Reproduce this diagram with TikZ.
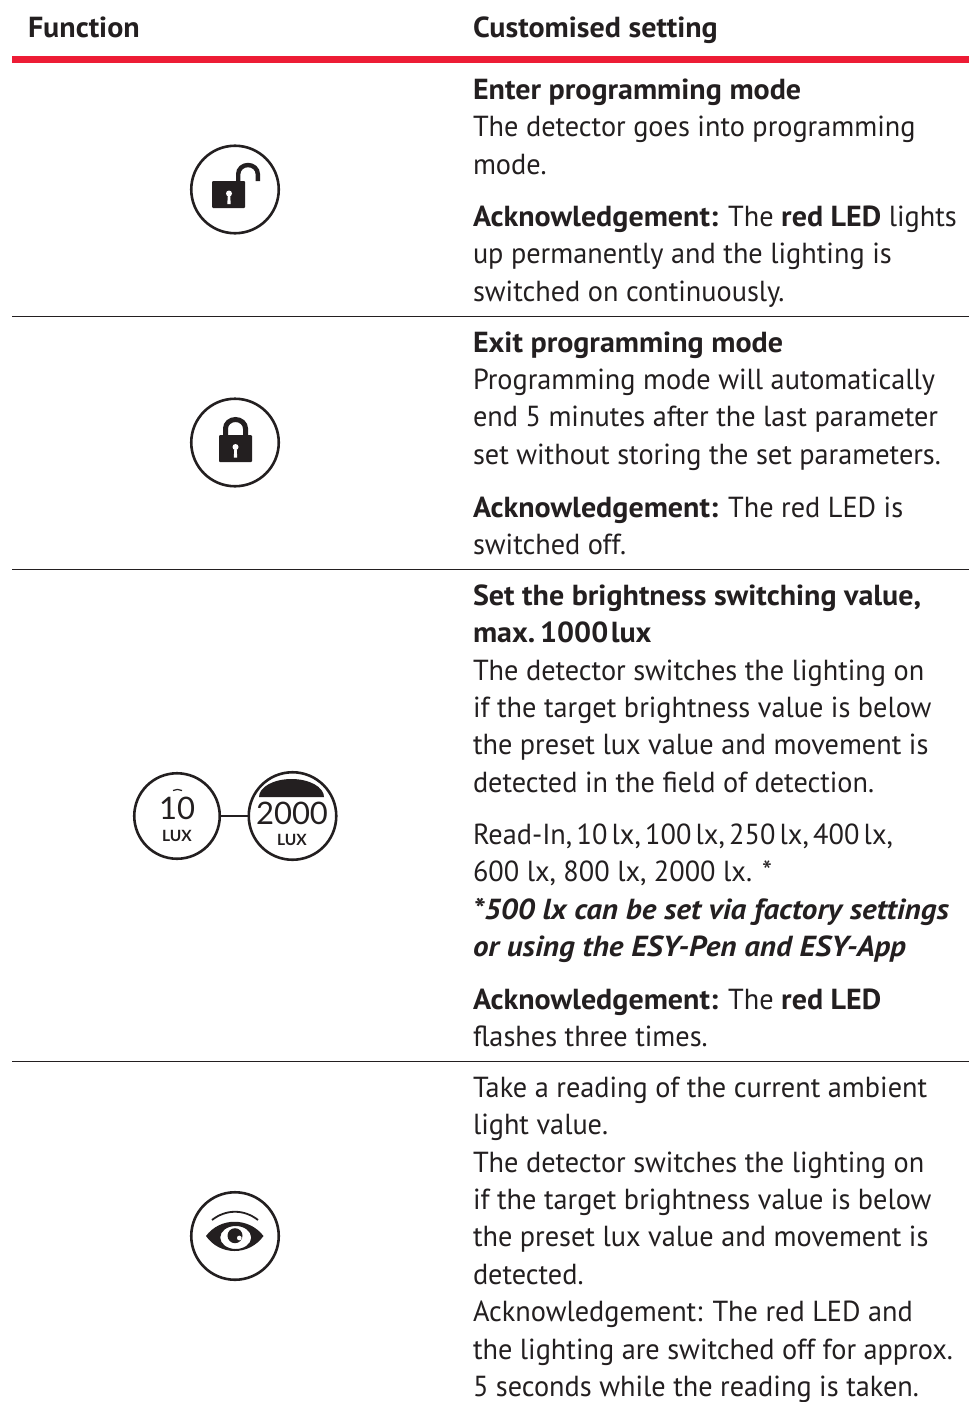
\documentclass[tikz,border=0pt]{standalone}
\usepackage{fontspec}
\setmainfont{PT Sans}[FakeStretch=0.975,BoldFeatures={FakeStretch=1.035},BoldItalicFeatures={FakeStretch=1.07}]
\newfontfamily\iconfont{Lato}
\definecolor{ink}{HTML}{231F20}
\definecolor{accent}{HTML}{ED1C35}
\newcommand{\bodyfont}{\fontsize{29}{37.35}\selectfont}
\tikzset{
  x=1pt,y=-1pt,
  para/.style={anchor=base west,inner sep=0pt,outer sep=0pt,align=left,text=ink,font=\bodyfont,yshift=0.6pt},
  head/.style={para,font=\bodyfont\bfseries},
  rowrule/.style={draw=ink,line width=1.1pt},
  ring/.style={circle,draw=ink,line width=2.6pt,minimum size=87.5pt,inner sep=0pt,outer sep=0pt},
  ringleft/.style={ring,minimum size=85.5pt},
  ringright/.style={ring,minimum size=87.5pt},
  strokeink/.style={draw=ink,line cap=butt},
  lux/.style={inner sep=0pt,outer sep=0pt,text=ink}
}
\begin{document}
\begin{tikzpicture}
\useasboundingbox (0,0) rectangle (969,1402);
\fill[white] (0,0) rectangle (969,1402);
% headers and rules
\node[head] (h1) at (28,38) {Function};
\node[head] (h2) at (473,38) {Customised setting};
\fill[accent] (12,56) rectangle (969,63.5);
\draw[rowrule] (12,316.5) -- (969,316.5);
\draw[rowrule] (12,569.5) -- (969,569.5);
\draw[rowrule] (12,1061.5) -- (969,1061.5);
% row 1
\node[para] (a1) at (473,100) {\textbf{Enter programming mode}};
\node[para] (a2) at (473,137.5) {The detector goes into programming};
\node[para] (a3) at (473,175) {mode.};
\node[para] (a4) at (473,227) {\textbf{Acknowledgement:} The \textbf{red LED} lights};
\node[para] (a5) at (473,264.5) {up permanently and the lighting is};
\node[para] (a6) at (473,302) {switched on continuously.};
% row 2
\node[para] (b1) at (473,353) {\textbf{Exit programming mode}};
\node[para] (b2) at (473,390) {Programming mode will automatically};
\node[para] (b3) at (473,427.5) {end 5 minutes after the last parameter};
\node[para] (b4) at (473,465) {set without storing the set parameters.};
\node[para] (b5) at (473,518) {\textbf{Acknowledgement:} The red LED is};
\node[para] (b6) at (473,555) {switched off.};
% row 3
\node[para] (c1) at (473,606) {\textbf{Set the brightness switching value,}};
\node[para] (c2) at (473,643) {\textbf{\spaceskip=2.5pt max. 1000 lux}};
\node[para] (c3) at (473,681) {The detector switches the lighting on};
\node[para] (c4) at (473,718) {if the target brightness value is below};
\node[para] (c5) at (473,755) {the preset lux value and movement is};
\node[para] (c6) at (473,793) {detected in the field of detection.};
\node[para] (c7) at (473,845) {\spaceskip=4.3pt Read-In, 10 lx, 100 lx, 250 lx, 400 lx,};
\node[para] (c8) at (473,882) {600 lx, 800 lx, 2000 lx. *};
\node[para] (c9) at (473,920) {\textbf{\itshape *500 lx can be set via factory settings}};
\node[para] (c10) at (473,957) {\textbf{\itshape or using the ESY-Pen and ESY-App}};
\node[para] (c11) at (473,1010) {\textbf{Acknowledgement:} The \textbf{red LED}};
\node[para] (c12) at (473,1047) {flashes three times.};
% row 4
\node[para] (d1) at (473,1098) {Take a reading of the current ambient};
\node[para] (d2) at (473,1135) {light value.};
\node[para] (d3) at (473,1173) {The detector switches the lighting on};
\node[para] (d4) at (473,1210) {if the target brightness value is below};
\node[para] (d5) at (473,1247) {the preset lux value and movement is};
\node[para] (d6) at (473,1285) {detected.};
\node[para] (d7) at (473,1322) {Acknowledgement: The red LED and};
\node[para] (d8) at (473,1360) {the lighting are switched off for approx.};
\node[para] (d9) at (473,1397) {5 seconds while the reading is taken.};
% open lock icon
\node[ring] (i1) at (235,189.5) {};
\fill[ink,rounded corners=1pt] (212,181) rectangle (245,208);
\fill[white] (229,193.5) circle (3);
\fill[white] (227.9,194) -- (230.1,194) -- (230.7,204) -- (227.3,204) -- cycle;
\draw[strokeink,line width=4.4pt] (238.2,182) -- (238.2,174) arc[start angle=180,end angle=360,x radius=9.8,y radius=9] -- (257.8,181);
% closed lock icon
\node[ring] (i2) at (235,442.5) {};
\fill[ink,rounded corners=1pt] (219,435) rectangle (252,462);
\fill[white] (235.5,447) circle (3);
\fill[white] (234.4,447.5) -- (236.6,447.5) -- (237.2,457.5) -- (233.8,457.5) -- cycle;
\draw[strokeink,line width=5pt] (225.5,437) -- (225.5,428.5) arc[start angle=180,end angle=360,x radius=10,y radius=9] -- (245.5,437);
% lux icons
\node[ringleft] (l1) at (177,816) {};
\node[ringright] (l2) at (292.5,816) {};
\draw[rowrule,line width=1.7pt] (l1) -- (l2);
\node[lux,font=\iconfont\fontsize{31}{31}\selectfont] (l1a) at (177,808) {10};
\node[lux,font=\iconfont\bfseries\fontsize{15.5}{16}\selectfont] (l1b) at (177,835.5) {LUX};
\draw[ink,line width=1.2pt] (173,790.5) .. controls (176,789) and (179,789) .. (182,790.5);
\fill[ink] (259,797) arc[start angle=180,end angle=360,x radius=32.5,y radius=18] -- cycle;
\node[lux,font=\iconfont\fontsize{31}{31}\selectfont] (l2a) at (292,813) {2000};
\node[lux,font=\iconfont\bfseries\fontsize{15.5}{16}\selectfont] (l2b) at (292,840) {LUX};
% eye icon
\node[ring] (i4) at (235,1236) {};
\draw[strokeink,line width=1.8pt] (212,1220) .. controls (226,1209) and (244,1209) .. (258,1220);
\fill[ink,even odd rule] (206,1236) .. controls (220,1217) and (249,1217) .. (263.5,1236)
  .. controls (249,1256) and (220,1256) .. cycle
  (235.7,1237.5) ellipse[x radius=15.5,y radius=11.5];
\fill[ink,even odd rule] (235,1235.7) circle (7.5) (239.3,1238) circle (2.5);
\end{tikzpicture}
\end{document}
